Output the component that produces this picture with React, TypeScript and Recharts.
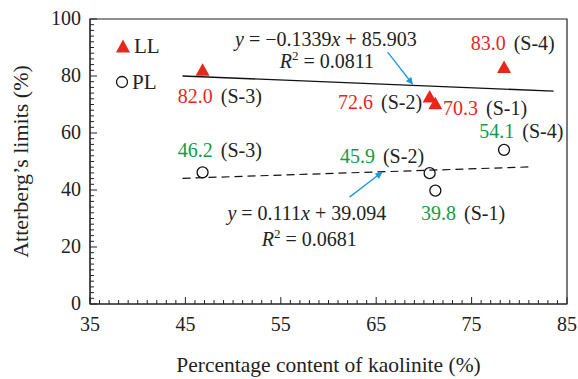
import {
  ScatterChart,
  Scatter,
  XAxis,
  YAxis,
  ReferenceLine,
  ReferenceArea,
} from 'recharts'

const RED = '#e8261c'
const GREEN = '#169a47'
const BLUE = '#1b9ad8'
const FONT = '"Liberation Serif", "DejaVu Serif", serif'

// samples: S-1 .. S-4
const kaolinite = [71.2, 70.6, 46.8, 78.4]
const liquidLimit = [70.3, 72.6, 82.0, 83.0]
const plasticLimit = [39.8, 45.9, 46.2, 54.1]

const xTicks = Array.from({ length: 51 }, (_, i) => 35 + i)
const yTicks = Array.from({ length: 51 }, (_, i) => i * 2)

// fitted lines, end points
const llFit = [
  { x: 44.7, y: 80.0 },
  { x: 83.6, y: 74.7 },
]
const plFit = [
  { x: 44.7, y: 44.1 },
  { x: 81.1, y: 48.1 },
]

// point labels (value, sample) placed in data units
const pointLabels = [
  { x: 44.2, y: 70.5, value: '82.0', tag: 'S-3', color: RED },
  { x: 61.0, y: 68.4, value: '72.6', tag: 'S-2', color: RED },
  { x: 72.0, y: 66.3, value: '70.3', tag: 'S-1', color: RED },
  { x: 74.9, y: 89.1, value: '83.0', tag: 'S-4', color: RED },
  { x: 44.2, y: 51.6, value: '46.2', tag: 'S-3', color: GREEN },
  { x: 61.2, y: 49.5, value: '45.9', tag: 'S-2', color: GREEN },
  { x: 69.7, y: 29.5, value: '39.8', tag: 'S-1', color: GREEN },
  { x: 75.8, y: 58.2, value: '54.1', tag: 'S-4', color: GREEN },
]

const equations = [
  { x: 50.2, y: 90.7, slope: '\u22120.1339', icpt: '85.903' },
  { x: 49.4, y: 29.5, slope: '0.111', icpt: '39.094' },
]
const rSquared = [
  { x: 54.9, y: 82.8, r2: '0.0811' },
  { x: 53.0, y: 20.4, r2: '0.0681' },
]

const arrows = [
  [
    { x: 66.2, y: 88.4 },
    { x: 68.8, y: 77.2 },
  ],
  [
    { x: 62.2, y: 37.5 },
    { x: 65.6, y: 46.2 },
  ],
]

const llData = kaolinite.map((x, i) => ({ x, y: liquidLimit[i] }))
const plData = kaolinite.map((x, i) => ({ x, y: plasticLimit[i] }))

const Triangle = ({ cx, cy }: any) => (
  <polygon
    points={`${cx},${cy - 7} ${cx - 7},${cy + 5.5} ${cx + 7},${cy + 5.5}`}
    fill={RED}
  />
)

const Ring = ({ cx, cy }: any) => (
  <circle cx={cx} cy={cy} r={5.5} fill="none" stroke="#111" strokeWidth={1.3} />
)

const PointLabel = ({ cx, cy, payload }: any) => (
  <text x={cx} y={cy} fontFamily={FONT} fontSize={20} fill="#222">
    <tspan fill={payload.color}>{payload.value}</tspan>
    <tspan dx={8}>({payload.tag})</tspan>
  </text>
)

const Equation = ({ cx, cy, payload }: any) => (
  <text x={cx} y={cy} fontFamily={FONT} fontSize={20} fill="#222">
    <tspan fontStyle="italic">y</tspan>
    <tspan dx={5}>=</tspan>
    <tspan dx={5}>{payload.slope}</tspan>
    <tspan fontStyle="italic">x</tspan>
    <tspan dx={5}>+</tspan>
    <tspan dx={5}>{payload.icpt}</tspan>
  </text>
)

const RSquared = ({ cx, cy, payload }: any) => (
  <text x={cx} y={cy} fontFamily={FONT} fontSize={20} fill="#222">
    <tspan fontStyle="italic">R</tspan>
    <tspan fontSize={13} dy={-8}>2</tspan>
    <tspan dy={8} dx={5}>=</tspan>
    <tspan dx={5}>{payload.r2}</tspan>
  </text>
)

const XTick = ({ x, y, payload }: any) => {
  const major = payload.value % 10 === 5
  return (
    <g>
      <line x1={x} y1={y} x2={x} y2={y - (major ? 7 : 4)} stroke="#222" />
      {major && (
        <text x={x} y={y + 27} textAnchor="middle" fontFamily={FONT} fontSize={20} fill="#222">
          {payload.value}
        </text>
      )}
    </g>
  )
}

const YTick = ({ x, y, payload }: any) => {
  const major = payload.value % 20 === 0
  return (
    <g>
      <line x1={x} y1={y} x2={x + (major ? 7 : 4)} y2={y} stroke="#222" />
      {major && (
        <text x={x - 9} y={y + 6} textAnchor="end" fontFamily={FONT} fontSize={20} fill="#222">
          {payload.value}
        </text>
      )}
    </g>
  )
}

export default function App() {
  return (
    <div style={{ position: 'relative', width: 578, height: 379, background: '#fff' }}>
      <style>{'body{margin:0}'}</style>
      <svg width={0} height={0} style={{ position: 'absolute' }}>
        <defs>
          <marker
            id="arrowHead"
            viewBox="0 0 10 10"
            refX={9}
            refY={5}
            markerWidth={9}
            markerHeight={7}
            markerUnits="userSpaceOnUse"
            orient="auto"
          >
            <path d="M0,0 L10,5 L0,10 z" fill={BLUE} />
          </marker>
        </defs>
      </svg>
      <ScatterChart
        width={578}
        height={379}
        margin={{ top: 19, right: 11, bottom: 0, left: 0 }}
      >
        <XAxis
          type="number"
          dataKey="x"
          domain={[35, 85]}
          ticks={xTicks}
          interval={0}
          allowDataOverflow
          height={75}
          axisLine={{ stroke: '#222' }}
          tickLine={false}
          tickSize={0}
          tickMargin={0}
          tick={<XTick />}
          label={{
            value: 'Percentage content of kaolinite (%)',
            position: 'insideBottom',
            offset: 7,
            fill: '#222',
            fontSize: 21.5,
            fontFamily: FONT,
          }}
        />
        <YAxis
          type="number"
          dataKey="y"
          domain={[0, 100]}
          ticks={yTicks}
          interval={0}
          allowDataOverflow
          width={90}
          axisLine={{ stroke: '#222' }}
          tickLine={false}
          tickSize={0}
          tickMargin={0}
          tick={<YTick />}
          label={{
            value: 'Atterberg\u2019s limits (%)',
            angle: -90,
            position: 'insideLeft',
            offset: 20,
            style: { textAnchor: 'middle' },
            fill: '#222',
            fontSize: 22,
            fontFamily: FONT,
          }}
        />
        <ReferenceArea
          x1={35}
          x2={85}
          y1={0}
          y2={100}
          fill="none"
          stroke="#222"
          strokeWidth={1.2}
          ifOverflow="visible"
        />
        <ReferenceLine segment={llFit} stroke="#111" strokeWidth={1.3} ifOverflow="visible" />
        <ReferenceLine
          segment={plFit}
          stroke="#111"
          strokeWidth={1.2}
          strokeDasharray="8 5"
          ifOverflow="visible"
        />
        {arrows.map((seg, i) => (
          <ReferenceLine
            key={i}
            segment={seg}
            stroke={BLUE}
            strokeWidth={1.3}
            markerEnd="url(#arrowHead)"
            ifOverflow="visible"
          />
        ))}
        <Scatter name="PL" data={plData} shape={<Ring />} isAnimationActive={false} />
        <Scatter name="LL" data={llData} shape={<Triangle />} isAnimationActive={false} />
        <Scatter data={pointLabels} shape={<PointLabel />} isAnimationActive={false} />
        <Scatter data={equations} shape={<Equation />} isAnimationActive={false} />
        <Scatter data={rSquared} shape={<RSquared />} isAnimationActive={false} />
      </ScatterChart>
      {/* legend */}
      <div
        style={{
          position: 'absolute',
          left: 115,
          top: 28,
          fontFamily: FONT,
          fontSize: 21,
          color: '#222',
          lineHeight: '36px',
        }}
      >
        <div style={{ display: 'flex', alignItems: 'center' }}>
          <svg width={16} height={16}>
            <polygon points="8,1.5 1,14.5 15,14.5" fill={RED} />
          </svg>
          <span style={{ marginLeft: 3 }}>LL</span>
        </div>
        <div style={{ display: 'flex', alignItems: 'center' }}>
          <svg width={16} height={16}>
            <circle cx={7} cy={8} r={5.5} fill="none" stroke="#111" strokeWidth={1.3} />
          </svg>
          <span style={{ marginLeft: 1 }}>PL</span>
        </div>
      </div>
    </div>
  )
}
